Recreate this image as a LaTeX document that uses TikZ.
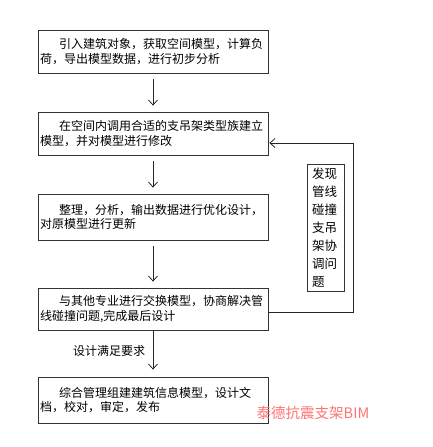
\documentclass[tikz,border=0pt]{standalone}
\usepackage{fontspec}
\setmainfont{Noto Sans CJK SC}
\usetikzlibrary{arrows.meta}
\tikzset{
  stepbox/.style={draw=black!80, line width=0.8pt, minimum width=230pt, text width=226pt, inner sep=2pt, align=left, font=\fontsize{12}{14.5}\selectfont},
  sidebox/.style={draw=black!80, line width=0.8pt, minimum width=37pt, minimum height=127pt, text width=27pt, inner sep=2pt, align=left, font=\fontsize{12.5}{18}\selectfont},
  flow/.style={draw=black!85, line width=0.8pt, -{Straight Barb[length=5pt,width=9pt]}},
  lbl/.style={font=\fontsize{12}{14}\selectfont, inner sep=1pt},
  wm/.style={font=\fontsize{14.5}{16}\selectfont, text=red!55, inner sep=0pt}
}
\begin{document}
\begin{tikzpicture}[x=1pt,y=-1pt]
\useasboundingbox (0,0) rectangle (432,447);
\node[stepbox, minimum height=43pt] (b1) at (153,51.5) {\hspace*{19pt}引入建筑对象，获取空间模型，计算负\\荷，导出模型数据，进行初步分析};
\node[stepbox, minimum height=43pt] (b2) at (153,133.5) {\hspace*{19pt}在空间内调用合适的支吊架类型族建立\\模型，并对模型进行修改};
\node[stepbox, minimum height=46pt] (b3) at (153,217) {\hspace*{19pt}整理，分析，输出数据进行优化设计，\\对原模型进行更新};
\node[stepbox, minimum height=42pt] (b4) at (153,309) {\hspace*{19pt}与其他专业进行交换模型，协商解决管\\线碰撞问题,完成最后设计};
\node[stepbox, minimum height=46pt] (b5) at (153,400) {\hspace*{19pt}综合管理组建建筑信息模型，设计文\\档，校对，审定，发布};
\node[sidebox] (side) at (325.5,227.5) {发现\\管线\\碰撞\\支吊\\架协\\调问\\题};
\node[lbl] (cond) at (109,351) {设计满足要求};
\node[wm] (mark) at (313,413) {泰德抗震支架BIM};
\coordinate (f1) at (353,312);
\coordinate (f2) at (353,143);
\draw[flow, shorten <=6pt, shorten >=6pt] (b1.south) -- (b2.north);
\draw[flow, shorten <=6pt, shorten >=6pt] (b2.south) -- (b3.north);
\draw[flow, shorten <=6pt, shorten >=6pt] (b3.south) -- (b4.north);
\draw[flow, shorten >=7pt] (b4.south) -- (b5.north);
\draw[flow, shorten >=1pt] (b4.east |- f1) -- (f1) -- (f2) -- (b2.east |- f2);
\end{tikzpicture}
\end{document}
